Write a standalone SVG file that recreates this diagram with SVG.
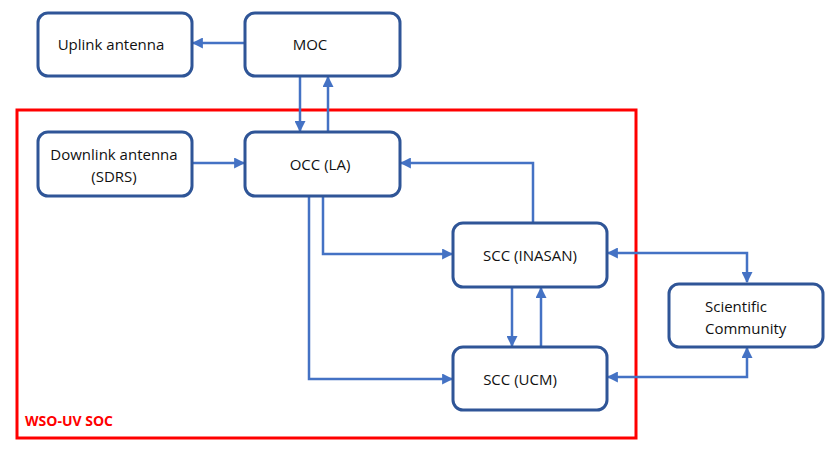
<svg xmlns="http://www.w3.org/2000/svg" width="830" height="456" viewBox="0 0 830 456">
<style>
.box{fill:#fff;stroke:#2F5597;stroke-width:3}
.lbl{font-family:"Open Sans","Liberation Sans",sans-serif;font-size:15px;fill:#111;text-anchor:middle}
.c{fill:none;stroke:#4472C4;stroke-width:2.5}
</style>
<defs>
<marker id="ah" viewBox="0 0 10 10" refX="9" refY="5" markerWidth="4.4" markerHeight="4.4" orient="auto-start-reverse" markerUnits="strokeWidth">
<path d="M0,0 L10,5 L0,10 z" fill="#4472C4"/>
</marker>
</defs>
<rect x="17" y="110" width="619" height="328" fill="none" stroke="#FF0000" stroke-width="3"/>
<text x="25" y="426" font-family="'Open Sans','Liberation Sans',sans-serif" font-size="14" font-weight="bold" fill="#FF0000">WSO-UV SOC</text>
<g id="connectors">
<path class="c" d="M245,43 H193" marker-end="url(#ah)"/>
<path class="c" d="M300,76 V131" marker-end="url(#ah)"/>
<path class="c" d="M328,132 V77" marker-end="url(#ah)"/>
<path class="c" d="M192,163 H244" marker-end="url(#ah)"/>
<path class="c" d="M533,223 V163 H401" marker-end="url(#ah)"/>
<path class="c" d="M323,196 V254 H452" marker-end="url(#ah)"/>
<path class="c" d="M309,196 V379 H452" marker-end="url(#ah)"/>
<path class="c" d="M512,287 V346" marker-end="url(#ah)"/>
<path class="c" d="M541,347 V288" marker-end="url(#ah)"/>
<path class="c" d="M608,253 H747 V282" marker-start="url(#ah)" marker-end="url(#ah)"/>
<path class="c" d="M608,377 H747 V348" marker-start="url(#ah)" marker-end="url(#ah)"/>
</g>
<g id="uplink"><rect class="box" x="38" y="13" width="154" height="63" rx="10"/><text class="lbl" x="111" y="50">Uplink antenna</text></g>
<g id="moc"><rect class="box" x="245" y="13" width="155" height="63" rx="10"/><text class="lbl" x="310" y="50">MOC</text></g>
<g id="downlink"><rect class="box" x="38" y="132" width="154" height="64" rx="10"/><text class="lbl" x="114" y="160">Downlink antenna</text><text class="lbl" x="114" y="182">(SDRS)</text></g>
<g id="occ"><rect class="box" x="245" y="132" width="155" height="64" rx="10"/><text class="lbl" x="320" y="170">OCC (LA)</text></g>
<g id="scc-inasan"><rect class="box" x="453" y="223" width="154" height="64" rx="10"/><text class="lbl" x="530" y="261">SCC (INASAN)</text></g>
<g id="scc-ucm"><rect class="box" x="453" y="347" width="154" height="63" rx="10"/><text class="lbl" x="520" y="385">SCC (UCM)</text></g>
<g id="scientific"><rect class="box" x="669" y="284" width="154" height="63" rx="10"/><text class="lbl" x="705" y="312" style="text-anchor:start">Scientific</text><text class="lbl" x="705" y="334" style="text-anchor:start">Community</text></g>
</svg>
